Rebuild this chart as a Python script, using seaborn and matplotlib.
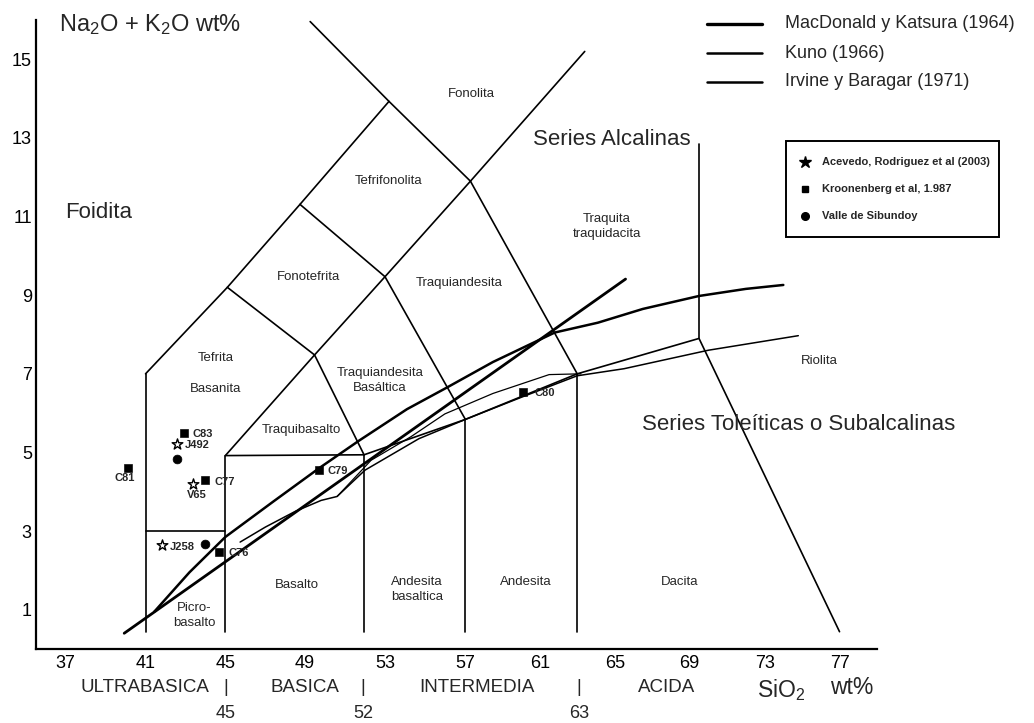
import matplotlib
matplotlib.use('Agg')
import matplotlib.pyplot as plt
from matplotlib.lines import Line2D
from matplotlib.patches import Rectangle
import seaborn as sns
import pandas as pd
import numpy as np

sns.set_theme(style='white')
plt.rcParams['font.family'] = ['Liberation Sans', 'DejaVu Sans']
plt.rcParams['mathtext.fontset'] = 'custom'
plt.rcParams['mathtext.rm'] = 'Liberation Sans'
plt.rcParams['mathtext.it'] = 'Liberation Sans:italic'
plt.rcParams['mathtext.bf'] = 'Liberation Sans:bold'

# ---------------- data ----------------
sample_names = ['C81', 'C83', 'J492', 'C77', 'V65', 'J258', 'C76', 'C79', 'C80', '', '']
sample_sio2 = [40.13, 42.93, 42.56, 44.00, 43.40, 41.82, 44.69, 49.67, 60.09, 42.56, 44.00]
sample_alk = [4.60, 5.49, 5.22, 4.29, 4.20, 2.64, 2.47, 4.56, 6.53, 4.84, 2.68]
sample_source = ['Kroonenberg', 'Kroonenberg', 'Acevedo', 'Kroonenberg', 'Acevedo',
                 'Acevedo', 'Kroonenberg', 'Kroonenberg', 'Kroonenberg', 'Sibundoy', 'Sibundoy']
label_x = [39.95, 43.33, 42.97, 44.44, 43.58, 42.20, 45.15, 50.10, 60.70]
label_y = [4.34, 5.48, 5.20, 4.26, 3.93, 2.59, 2.44, 4.54, 6.52]
label_ha = ['center', 'left', 'left', 'left', 'center', 'left', 'left', 'left', 'left']

source_labels = ['Acevedo, Rodriguez et al (2003)', 'Kroonenberg et al, 1.987', 'Valle de Sibundoy']

# TAS field boundaries (SiO2, Na2O+K2O)
b_x41 = ([41.0, 41.0], [0.44, 7.0])
b_left = ([41.0, 45.1, 48.74, 53.2, 49.25], [7.0, 9.2, 11.31, 13.93, 15.96])
b_phon = ([53.2, 57.3, 63.4], [13.93, 11.9, 15.2])
b_trachyte = ([57.3, 63.0], [11.9, 7.0])
b_mid = ([45.1, 49.47, 53.0, 57.3], [9.2, 7.48, 9.47, 11.9])
b_phonotef = ([48.74, 53.0], [11.31, 9.47])
b_trachyand = ([53.0, 57.03], [9.47, 5.84])
b_trachybas = ([45.0, 49.47, 51.95], [4.92, 7.48, 4.94])
b_basalt_top = ([45.0, 51.95], [4.92, 4.94])
b_subalk_top = ([51.95, 57.03, 63.0, 69.5, 77.0], [4.94, 5.84, 7.0, 7.9, 0.44])
b_x69 = ([69.5, 69.5], [7.9, 12.85])
b_x45 = ([45.0, 45.0], [0.44, 4.92])
b_picro_top = ([41.0, 45.0], [3.0, 3.0])
b_x52 = ([51.95, 51.95], [0.44, 4.94])
b_x57 = ([57.03, 57.03], [0.44, 5.84])
b_x63 = ([63.0, 63.0], [0.44, 7.0])
boundaries = [b_x41, b_left, b_phon, b_trachyte, b_mid, b_phonotef, b_trachyand, b_trachybas,
              b_basalt_top, b_subalk_top, b_x69, b_x45, b_picro_top, b_x52, b_x57, b_x63]

# alkaline / subalkaline dividing lines
mk_x = [39.93, 65.58]
mk_y = [0.40, 9.41]
upper_x = [41.44, 43.2, 45.0, 47.4, 49.7, 51.7, 54.1, 56.1, 58.5, 60.7, 61.8, 64.1, 66.5, 69.5, 72.0, 74.0]
upper_y = [0.95, 1.95, 2.85, 3.75, 4.60, 5.30, 6.10, 6.65, 7.30, 7.80, 8.05, 8.30, 8.65, 8.98, 9.16, 9.26]
lower_x = [45.74, 47.0, 48.5, 49.8, 50.6, 52.0, 54.7, 57.03, 60.0, 63.0, 65.5, 70.0, 74.8]
lower_y = [2.72, 3.10, 3.50, 3.78, 3.88, 4.55, 5.35, 5.84, 6.40, 6.95, 7.13, 7.60, 7.97]
bline_x = [50.6, 52.3, 54.3, 56.0, 58.5, 61.5, 63.2]
bline_y = [3.88, 4.80, 5.40, 5.98, 6.50, 6.98, 7.00]
curve_labels = ['MacDonald y Katsura (1964)', 'Kuno (1966)', 'Irvine y Baragar (1971)']

# field names
field_names = ['Fonolita', 'Tefrifonolita', 'Fonotefrita', 'Traquiandesita', 'Traquita\ntraquidacita',
               'Tefrita', 'Basanita', 'Traquiandesita\nBasáltica', 'Traquibasalto', 'Basalto',
               'Andesita\nbasaltica', 'Andesita', 'Dacita', 'Picro-\nbasalto', 'Riolita']
field_x = [57.37, 53.2, 49.17, 56.7, 64.57, 44.51, 44.50, 52.75, 48.8, 48.6, 54.6, 60.25, 68.47, 43.43, 75.9]
field_y = [14.11, 11.9, 9.45, 9.32, 10.74, 7.39, 6.62, 6.83, 5.56, 1.62, 1.52, 1.70, 1.70, 0.86, 7.33]

xticks_major = list(range(37, 78, 4))
xticks_minor = list(range(39, 80, 4))
yticks_major = list(range(1, 16, 2))
yticks_minor = list(range(2, 17, 2))

# the printed SiO2 axis is slightly compressed above 57 wt%
scale_knots = [0.0, 57.0, 100.0]
scale_pos = [-674.3, 465.7, 1273.2]


def fwd(v):
    return np.interp(v, scale_knots, scale_pos)


def inv(v):
    return np.interp(v, scale_pos, scale_knots)


# ---------------- figure ----------------
W, H = 1034, 723
fig = plt.figure(figsize=(W / 100, H / 100), dpi=100)
fig.patch.set_facecolor('white')
ax = fig.add_axes([36 / W, 1 - 649 / H, (877 - 36) / W, (649 - 20) / H])
ax.set_facecolor('white')
ax.set_xscale('function', functions=(fwd, inv))

for bx, by in boundaries:
    sns.lineplot(x=bx, y=by, sort=False, estimator=None, color='black', lw=1.2, ax=ax)

sns.lineplot(x=mk_x, y=mk_y, sort=False, estimator=None, color='black', lw=2.0, ax=ax)
sns.lineplot(x=upper_x, y=upper_y, sort=False, estimator=None, color='black', lw=1.8, ax=ax)
sns.lineplot(x=lower_x, y=lower_y, sort=False, estimator=None, color='black', lw=1.1, ax=ax)
sns.lineplot(x=bline_x, y=bline_y, sort=False, estimator=None, color='black', lw=0.9, ax=ax)

df = pd.DataFrame({'sio2': sample_sio2, 'alk': sample_alk, 'src': sample_source, 'name': sample_names})
sns.scatterplot(data=df[df.src == 'Kroonenberg'], x='sio2', y='alk', marker='s', s=30,
                color='black', edgecolor='black', ax=ax, zorder=5)
sns.scatterplot(data=df[df.src == 'Acevedo'], x='sio2', y='alk', marker='*', s=65,
                facecolor='white', edgecolor='black', linewidth=1.0, ax=ax, zorder=5)
sns.scatterplot(data=df[df.src == 'Sibundoy'], x='sio2', y='alk', marker='o', s=40,
                color='black', edgecolor='black', ax=ax, zorder=5)

named = [n for n in sample_names if n]
for n, lx, ly, ha in zip(named, label_x, label_y, label_ha):
    ax.text(lx, ly, n, fontsize=8, fontweight='bold', ha=ha, va='center')

for t, fx, fy in zip(field_names, field_x, field_y):
    ax.text(fx, fy, t, fontsize=9.5, ha='center', va='center', linespacing=1.3)

ax.text(38.65, 11.1, 'Foidita', fontsize=16, ha='center', va='center')
ax.text(64.85, 12.95, 'Series Alcalinas', fontsize=16, ha='center', va='center')
fig.text(642 / W, 1 - 425 / H, 'Series Toleíticas o Subalcalinas', fontsize=16, ha='left', va='center')
fig.text(59 / W, 1 - 25 / H, r'Na$_2$O + K$_2$O wt%', fontsize=17, ha='left', va='center')

ax.set_xlim(35.51, 78.9)
ax.set_ylim(0, 16)
ax.set_xticks(xticks_major)
ax.set_xticks(xticks_minor, minor=True)
ax.set_xticklabels([str(t) for t in xticks_major])
ax.set_yticks(yticks_major)
ax.set_yticks(yticks_minor, minor=True)
ax.tick_params(axis='both', which='both', direction='in', length=7, width=1.4,
               labelsize=13, colors='black')
ax.tick_params(axis='x', which='both', pad=4)
ax.tick_params(axis='y', which='both', pad=3)
for s in ['top', 'right']:
    ax.spines[s].set_visible(False)
for s in ['left', 'bottom']:
    ax.spines[s].set_color('black')
    ax.spines[s].set_linewidth(1.6)
ax.set_xlabel('')
ax.set_ylabel('')
ax.grid(False)

# bottom classification text
row1 = [('ULTRABASICA', 145), ('|', 226), ('BASICA', 305), ('|', 363),
        ('INTERMEDIA', 477), ('|', 579), ('ACIDA', 667)]
for t, px in row1:
    fig.text(px / W, 1 - 688 / H, t, fontsize=13.5, ha='center', va='center')
fig.text(781 / W, 1 - 690 / H, r'SiO$_2$', fontsize=16.5, ha='center', va='center')
fig.text(852 / W, 1 - 687 / H, 'wt%', fontsize=16.5, ha='center', va='center')
for t, px in [('45', 226), ('52', 363), ('63', 579)]:
    fig.text(px / W, 1 - 714 / H, t, fontsize=13, ha='center', va='center')

# line legend
leg_lw = [2.4, 1.8, 1.8]
for i, (lab, lw) in enumerate(zip(curve_labels, leg_lw)):
    yy = 1 - (24 + i * 29) / H
    fig.add_artist(Line2D([707 / W, 762 / W], [yy, yy], color='black', lw=lw))
    fig.text(785 / W, yy, lab, fontsize=13, ha='left', va='center')

# symbol legend box
fig.add_artist(Rectangle((786 / W, 1 - 237 / H), (999 - 786) / W, (237 - 141) / H,
                         fill=False, edgecolor='black', lw=1.4, transform=fig.transFigure))
mk = [('*', 9, 'black'), ('s', 5, 'black'), ('o', 5.5, 'black')]
for i, (lab, (m, ms, c)) in enumerate(zip(source_labels, mk)):
    yy = 1 - (162 + i * 27) / H
    fig.add_artist(Line2D([805 / W], [yy], marker=m, ms=ms, color=c, ls=''))
    fig.text(822 / W, yy, lab, fontsize=8, fontweight='bold', ha='left', va='center')

fig.savefig('out.png', dpi=100)
